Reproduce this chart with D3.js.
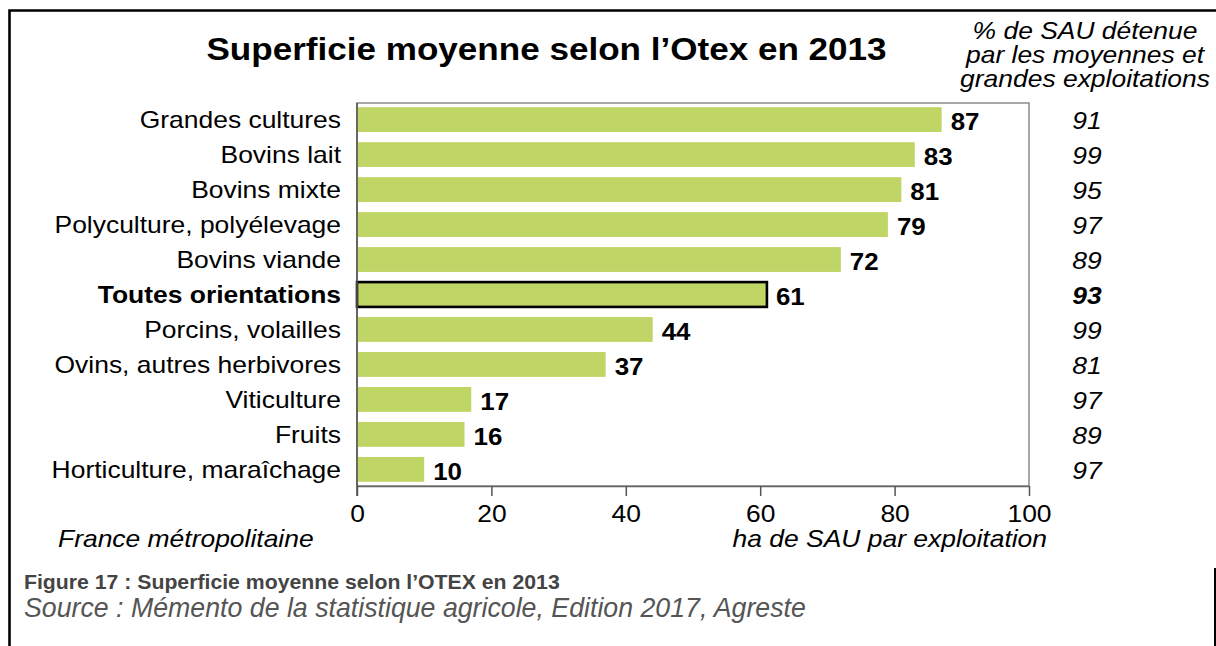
<!DOCTYPE html>
<html>
<head>
<meta charset="utf-8">
<script src="https://cdn.jsdelivr.net/npm/d3@7"></script>
<style>
  html, body { margin: 0; padding: 0; background: #fff; }
  svg { display: block; font-family: "Liberation Sans", Arial, sans-serif; }
</style>
</head>
<body>
<svg id="chart" width="1216" height="646"></svg>
<script>
// Average farm size by type of farming (OTEX), 2013
const categories = [
  "Grandes cultures", "Bovins lait", "Bovins mixte", "Polyculture, polyélevage",
  "Bovins viande", "Toutes orientations", "Porcins, volailles",
  "Ovins, autres herbivores", "Viticulture", "Fruits", "Horticulture, maraîchage"
];
const avgArea = [87, 83, 81, 79, 72, 61, 44, 37, 17, 16, 10];
const shareMediumLarge = [91, 99, 95, 97, 89, 93, 99, 81, 97, 89, 97];
const totalCategory = "Toutes orientations";
const xTicks = [0, 20, 40, 60, 80, 100];

const svg = d3.select("#chart");
const plot = { left: 357, right: 1029, top: 103, bottom: 486 };
const SX = 1.15; // horizontal widening of the lettering

const x = d3.scaleLinear().domain([0, 100]).range([plot.left, plot.right]);
const y = d3.scaleBand().domain(categories)
  .range([plot.top, plot.bottom]).paddingInner(0.29).paddingOuter(0.12);

// text placed at (tx, ty) and widened horizontally by sx
function label(parent, tx, ty, sx) {
  return parent.append("text")
    .attr("transform", `translate(${tx},${ty}) scale(${sx},1)`);
}

// outer frame
svg.append("path")
  .attr("d", "M9.5,646 V10.5 H1216")
  .attr("fill", "none").attr("stroke", "#000").attr("stroke-width", 2.6);
svg.append("line")
  .attr("x1", 1215).attr("x2", 1215).attr("y1", 568).attr("y2", 646)
  .attr("stroke", "#000").attr("stroke-width", 2);

// title
label(svg, 546.5, 60, SX)
  .attr("text-anchor", "middle")
  .attr("font-size", 30.5).attr("font-weight", "bold").attr("fill", "#000")
  .text("Superficie moyenne selon l’Otex en 2013");

// plot frame
svg.append("rect")
  .attr("x", plot.left).attr("y", plot.top)
  .attr("width", plot.right - plot.left).attr("height", plot.bottom - plot.top)
  .attr("fill", "none").attr("stroke", "#8a8a8a").attr("stroke-width", 1.5);

// bars
svg.append("g").selectAll("rect")
  .data(categories)
  .join("rect")
  .attr("x", x(0))
  .attr("y", d => y(d))
  .attr("width", (d, i) => x(avgArea[i]) - x(0))
  .attr("height", y.bandwidth())
  .attr("fill", "#bfd565")
  .attr("stroke", d => d === totalCategory ? "#000" : "none")
  .attr("stroke-width", 2.6);

// x axis
const xAxis = svg.append("g")
  .attr("transform", `translate(0,${plot.bottom})`)
  .call(d3.axisBottom(x).tickValues(xTicks).tickSize(10).tickPadding(9).tickSizeOuter(0));
xAxis.select(".domain").attr("stroke", "#666").attr("stroke-width", 1.5);
xAxis.selectAll(".tick line").attr("stroke", "#555").attr("stroke-width", 1.5);
xAxis.selectAll(".tick text")
  .attr("font-size", 24).attr("fill", "#000")
  .attr("font-family", "Liberation Sans, Arial, sans-serif")
  .attr("transform", "scale(1.1,1)");

// left axis line
svg.append("line")
  .attr("x1", plot.left).attr("x2", plot.left)
  .attr("y1", plot.top).attr("y2", plot.bottom + 10)
  .attr("stroke", "#555").attr("stroke-width", 1.6);

// category labels
categories.forEach(c => {
  label(svg, 341, y(c) + y.bandwidth() / 2 + 8.3, SX)
    .attr("text-anchor", "end")
    .attr("font-size", 23)
    .attr("font-weight", c === totalCategory ? "bold" : "normal")
    .attr("fill", "#000")
    .text(c);
});

// value labels
categories.forEach((c, i) => {
  label(svg, x(avgArea[i]) + 9, y(c) + y.bandwidth() / 2 + 10.8, 1.08)
    .attr("font-size", 24).attr("font-weight", "bold").attr("fill", "#000")
    .text(avgArea[i]);
});

// share column
categories.forEach((c, i) => {
  label(svg, 1087, y(c) + y.bandwidth() / 2 + 9.6, SX)
    .attr("text-anchor", "middle")
    .attr("font-size", 23).attr("font-style", "italic")
    .attr("font-weight", c === totalCategory ? "bold" : "normal")
    .attr("fill", "#000")
    .text(shareMediumLarge[i]);
});

["% de SAU détenue", "par les moyennes et", "grandes exploitations"].forEach((t, i) => {
  label(svg, 1085, 39.3 + i * 24, SX)
    .attr("text-anchor", "middle")
    .attr("font-size", 23).attr("font-style", "italic").attr("fill", "#000")
    .text(t);
});

// footnotes
label(svg, 58, 547, SX)
  .attr("font-size", 23).attr("font-style", "italic").attr("fill", "#000")
  .text("France métropolitaine");
label(svg, 1047, 547, SX)
  .attr("text-anchor", "end")
  .attr("font-size", 23).attr("font-style", "italic").attr("fill", "#000")
  .text("ha de SAU par exploitation");

label(svg, 24, 589, 1.09)
  .attr("font-size", 19.5).attr("font-weight", "bold").attr("fill", "#444")
  .text("Figure 17 : Superficie moyenne selon l’OTEX en 2013");
label(svg, 24, 617, 0.99)
  .attr("font-size", 27).attr("font-style", "italic").attr("fill", "#555")
  .text("Source : Mémento de la statistique agricole, Edition 2017, Agreste");
</script>
</body>
</html>
